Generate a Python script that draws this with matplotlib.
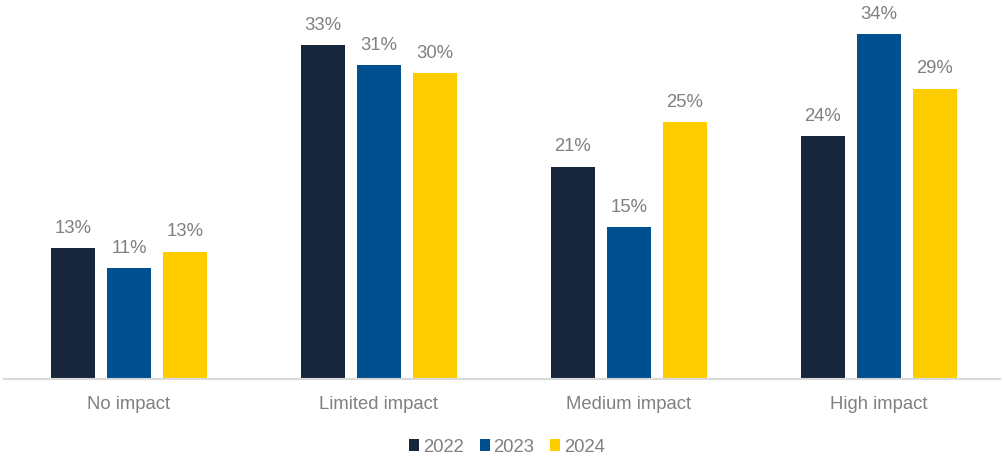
import matplotlib.pyplot as plt
import numpy as np

plt.rcParams['font.family'] = ['Liberation Sans', 'DejaVu Sans']

categories = ['No impact', 'Limited impact', 'Medium impact', 'High impact']
years = ['2022', '2023', '2024']
values_2022 = [12.9, 33.0, 21.0, 24.0]
values_2023 = [11.0, 31.0, 15.0, 34.1]
values_2024 = [12.6, 30.2, 25.4, 28.7]
colors = ['#17263a', '#00508f', '#ffcc00']

series = [values_2022, values_2023, values_2024]
text_color = '#808080'

fig = plt.figure(figsize=(10.04, 4.58), dpi=100)
ax = fig.add_axes([0.004, 0.1725, 0.992, 0.8165])

x = np.arange(len(categories))
width = 0.176
pitch = 0.224
for i, (vals, year, col) in enumerate(zip(series, years, colors)):
    pos = x + (i - 1) * pitch
    bars = ax.bar(pos, vals, width, color=col, label=year)
    for b, v in zip(bars, vals):
        ax.text(b.get_x() + b.get_width() / 2, v + 1.1, f'{round(v)}%',
                ha='center', va='bottom', fontsize=13.3, color=text_color)

ax.set_xlim(-0.5, 3.486)
ax.set_ylim(0, 36.96)
ax.set_xticks(x)
ax.set_xticklabels(categories, fontsize=13.3, color=text_color)
ax.tick_params(axis='x', length=0, pad=12)
ax.set_yticks([])
for side in ['top', 'right', 'left']:
    ax.spines[side].set_visible(False)
ax.spines['bottom'].set_color('#d9d9d9')
ax.spines['bottom'].set_linewidth(1.5)

leg = fig.legend(loc='center', bbox_to_anchor=(0.505, 0.024), ncol=3, frameon=False,
                 fontsize=13.3, handlelength=0.55, handleheight=0.55, handletextpad=0.2,
                 columnspacing=0.85)
for t in leg.get_texts():
    t.set_color(text_color)

plt.savefig('out.png', dpi=100)
